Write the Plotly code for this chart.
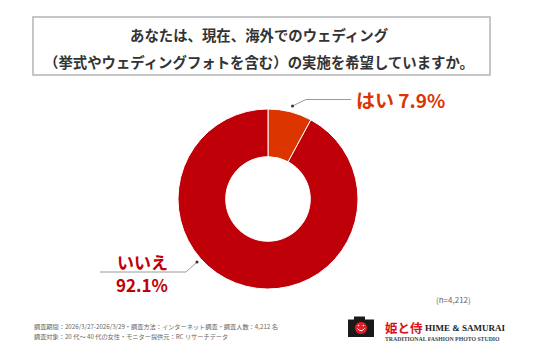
import plotly.graph_objects as go

# page body has an 8px default margin; compensate
OX, OY = 8, 8
W, H = 536 - OX, 357 - OY

# ---- data ----
labels = ["はい", "いいえ"]
values = [7.9, 92.1]
colors = ["#dc3500", "#c00008"]
title_lines = ["あなたは、現在、海外でのウェディング",
               "（挙式やウェディングフォトを含む）の実施を希望していますか。"]
n_note = "(n=4,212)"
footer_lines = ["調査期間：2026/3/27-2026/3/29・調査方法：インターネット調査・調査人数：4,212 名",
                "調査対象：20 代～ 40 代の女性・モニター提供元：RC リサーチデータ"]

def px(x):
    return (x - OX) / W

def py(y):
    return 1 - (y - OY) / H

JP = "Noto Sans CJK JP"

fig = go.Figure()
fig.add_trace(go.Pie(
    labels=labels, values=values, hole=0.47, sort=False,
    direction="clockwise", rotation=0,
    marker=dict(colors=colors, line=dict(color="white", width=1)),
    textinfo="none", hoverinfo="label+percent", showlegend=False,
    domain=dict(x=[px(178), px(358)], y=[py(289), py(109)]),
))

shapes = []
annotations = []

# title box
shapes.append(dict(type="rect", xref="paper", yref="paper",
                   x0=px(33), x1=px(490), y0=py(75), y1=py(17),
                   line=dict(color="#b4b4b4", width=1.5), fillcolor="white", layer="below"))
for i, t in enumerate(title_lines):
    annotations.append(dict(text=f"<b>{t}</b>", x=px(259), y=py([35, 61][i]),
                            xref="paper", yref="paper", showarrow=False,
                            xanchor="center", yanchor="middle",
                            font=dict(family=JP, size=14.4, color="#333333")))

# leader lines
gray = "#9a9a9a"
shapes.append(dict(type="path", xref="paper", yref="paper",
                   path=f"M {px(292.5)} {py(106)} L {px(306)} {py(99.5)} L {px(351)} {py(99.5)}",
                   line=dict(color=gray, width=1)))
shapes.append(dict(type="circle", xref="paper", yref="paper",
                   x0=px(291), x1=px(294), y0=py(107.5), y1=py(104.5),
                   fillcolor="#333", line=dict(width=0)))
shapes.append(dict(type="path", xref="paper", yref="paper",
                   path=f"M {px(197)} {py(262)} L {px(186)} {py(272)} L {px(100)} {py(272)}",
                   line=dict(color=gray, width=1)))
shapes.append(dict(type="circle", xref="paper", yref="paper",
                   x0=px(195.5), x1=px(198.5), y0=py(263.5), y1=py(260.5),
                   fillcolor="#333", line=dict(width=0)))

annotations.append(dict(text=f"<b>{labels[0]} {values[0]}%</b>", x=px(354), y=py(100),
                        xref="paper", yref="paper", showarrow=False,
                        xanchor="left", yanchor="middle",
                        font=dict(family=JP, size=19, color=colors[0])))
annotations.append(dict(text=f"<b>{labels[1]}</b>", x=px(142), y=py(261),
                        xref="paper", yref="paper", showarrow=False,
                        xanchor="center", yanchor="middle",
                        font=dict(family=JP, size=17, color=colors[1])))
annotations.append(dict(text=f"<b>{values[1]}%</b>", x=px(142), y=py(284),
                        xref="paper", yref="paper", showarrow=False,
                        xanchor="center", yanchor="middle",
                        font=dict(family=JP, size=17, color=colors[1])))

# n note
annotations.append(dict(text=n_note, x=px(453), y=py(299), xref="paper", yref="paper",
                        showarrow=False, xanchor="center", yanchor="middle",
                        font=dict(family=JP, size=8, color="#666666")))

# footer
for i, t in enumerate(footer_lines):
    annotations.append(dict(text=t, x=px(32), y=py([326, 336][i]), xref="paper", yref="paper",
                            showarrow=False, xanchor="left", yanchor="middle",
                            font=dict(family=JP, size=6.2, color="#666666")))

# logo: camera
shapes.append(dict(type="rect", xref="paper", yref="paper",
                   x0=px(348), x1=px(374), y0=py(337), y1=py(319.5),
                   fillcolor="#1a1a1a", line=dict(width=0)))
shapes.append(dict(type="rect", xref="paper", yref="paper",
                   x0=px(354), x1=px(365), y0=py(320), y1=py(316.5),
                   fillcolor="#1a1a1a", line=dict(width=0)))
shapes.append(dict(type="circle", xref="paper", yref="paper",
                   x0=px(354.5), x1=px(367.5), y0=py(334.5), y1=py(321.5),
                   fillcolor="#e0202a", line=dict(color="#1a1a1a", width=1)))
shapes.append(dict(type="path", xref="paper", yref="paper",
                   path=f"M {px(357.5)} {py(328.5)} Q {px(361)} {py(333)} {px(364.5)} {py(328.5)}",
                   line=dict(color="white", width=1)))
for ex in (358.5, 363.5):
    shapes.append(dict(type="circle", xref="paper", yref="paper",
                       x0=px(ex - 0.8), x1=px(ex + 0.8), y0=py(326.3), y1=py(324.7),
                       fillcolor="white", line=dict(width=0)))

annotations.append(dict(text="<b>姫と侍</b>", x=px(383), y=py(327.5), xref="paper", yref="paper",
                        showarrow=False, xanchor="left", yanchor="middle",
                        font=dict(family=JP, size=12.5, color="#d4141e")))
annotations.append(dict(text="<b>HIME &amp; SAMURAI</b>", x=px(423), y=py(328), xref="paper", yref="paper",
                        showarrow=False, xanchor="left", yanchor="middle",
                        font=dict(family="Liberation Serif", size=9, color="#222222")))
annotations.append(dict(text="<b>TRADITIONAL FASHION PHOTO STUDIO</b>", x=px(383), y=py(338.5),
                        xref="paper", yref="paper", showarrow=False, xanchor="left", yanchor="middle",
                        font=dict(family="Liberation Serif", size=5.8, color="#444444")))

fig.update_layout(width=W, height=H, margin=dict(l=0, r=0, t=0, b=0),
                  paper_bgcolor="white", plot_bgcolor="white",
                  shapes=shapes, annotations=annotations)

fig.write_html("out.html")
